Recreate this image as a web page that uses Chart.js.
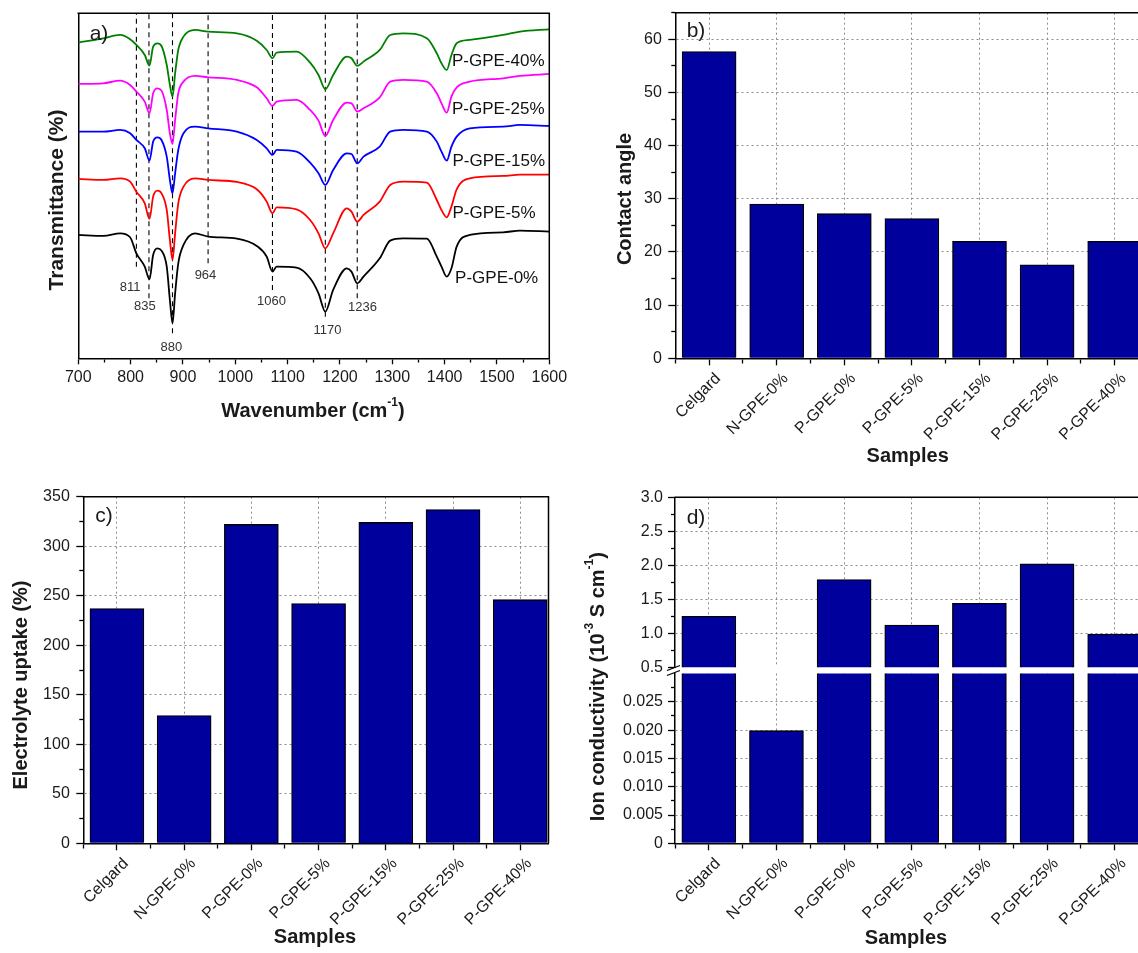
<!DOCTYPE html>
<html><head><meta charset="utf-8">
<script src="https://cdn.jsdelivr.net/npm/chart.js@4.4.1/dist/chart.umd.min.js"></script>
<style>
html,body{margin:0;padding:0;background:#fff;overflow:hidden;width:1138px;height:953px;}
canvas{position:absolute;}
</style></head><body>
<canvas id="ca" width="575" height="430" style="left:0;top:0"></canvas>
<canvas id="cb" width="585" height="476" style="left:570px;top:0"></canvas>
<canvas id="cc" width="570" height="473" style="left:0;top:480px"></canvas>
<canvas id="cdu" width="585" height="200" style="left:570px;top:480px"></canvas>
<canvas id="cdl" width="585" height="473" style="left:570px;top:480px"></canvas>
<script>
// ---------------- DATA ----------------
// Panel a: FTIR spectra (wavenumber in cm-1, transmittance in arbitrary offset units)
const wavenumbers = [700, 748, 780, 799, 811, 827, 836, 843, 851, 859, 869, 875, 880, 885, 891, 901, 923, 948, 1003, 1041, 1060, 1071, 1079, 1117, 1143, 1159, 1172, 1187, 1213, 1222, 1233, 1245, 1276, 1296, 1321, 1366, 1385, 1394, 1404, 1413, 1423, 1448, 1512, 1544, 1600];
const transP0 = [37.0, 36.7, 37.5, 36.3, 31.5, 27.5, 23.7, 31.0, 33.0, 32.3, 27.5, 17.5, 10.5, 19.5, 28.5, 34.0, 37.5, 36.5, 35.9, 33.7, 30.5, 26.0, 27.5, 27.2, 24.0, 19.5, 14.0, 20.5, 27.0, 26.0, 22.5, 24.5, 30.0, 35.3, 36.0, 35.9, 30.5, 27.5, 24.5, 27.0, 33.5, 37.0, 37.8, 38.3, 38.0];
const transP5 = [53.8, 53.5, 54.0, 53.0, 50.0, 46.5, 41.8, 48.5, 50.3, 49.5, 44.5, 35.5, 29.5, 37.5, 46.5, 51.5, 54.0, 53.5, 52.9, 50.7, 47.0, 43.5, 45.3, 44.7, 41.5, 37.5, 33.0, 37.5, 45.0, 44.0, 41.0, 43.0, 47.0, 52.0, 53.0, 52.7, 47.5, 44.5, 42.3, 45.5, 50.7, 54.0, 54.7, 55.1, 55.1];
const transP15 = [68.0, 68.0, 68.5, 67.5, 65.5, 63.0, 59.3, 65.0, 66.3, 65.5, 60.5, 53.5, 49.5, 55.5, 62.5, 67.5, 69.5, 69.0, 68.0, 65.5, 63.0, 61.0, 62.5, 62.0, 58.7, 55.5, 52.0, 56.5, 61.5, 61.3, 58.5, 60.5, 63.5, 68.0, 68.5, 68.0, 65.0, 62.0, 59.3, 63.5, 66.5, 69.0, 69.5, 70.0, 69.7];
const transP25 = [82.3, 82.5, 83.3, 82.0, 80.0, 77.0, 73.5, 79.5, 81.0, 80.3, 74.5, 67.5, 64.3, 71.5, 79.5, 83.0, 84.7, 84.3, 83.5, 81.3, 78.0, 75.7, 77.0, 77.5, 74.5, 71.3, 66.7, 71.5, 76.7, 76.5, 74.0, 75.0, 78.3, 83.0, 83.5, 83.0, 79.5, 76.5, 73.7, 78.5, 81.3, 83.0, 84.0, 84.7, 85.3];
const transP40 = [94.7, 96.0, 97.0, 95.7, 94.0, 91.0, 87.8, 93.5, 94.5, 93.7, 88.0, 82.0, 78.5, 85.5, 92.5, 96.5, 98.5, 98.0, 97.5, 95.3, 92.5, 90.0, 91.7, 92.0, 88.7, 85.0, 80.7, 85.0, 90.5, 90.0, 87.7, 89.0, 92.5, 97.0, 97.5, 96.0, 91.5, 88.5, 86.5, 91.0, 94.5, 95.5, 97.0, 98.0, 98.7];
const seriesNames = ['P-GPE-0%', 'P-GPE-5%', 'P-GPE-15%', 'P-GPE-25%', 'P-GPE-40%'];
const peakLineWn = [811, 835, 880, 948, 1071, 1172, 1233];
const peakLineLow = [27.5, 18, 7.5, 28.5, 20.5, 12.5, 18];
const peakLabels = ['811', '835', '880', '964', '1060', '1170', '1236'];
const wnTicks = [700, 750, 800, 850, 900, 950, 1000, 1050, 1100, 1150, 1200, 1250, 1300, 1350, 1400, 1450, 1500, 1550, 1600];

// Panels b, c, d: bar data
const samples = ['Celgard', 'N-GPE-0%', 'P-GPE-0%', 'P-GPE-5%', 'P-GPE-15%', 'P-GPE-25%', 'P-GPE-40%'];
const contactAngle = [57.7, 29.0, 27.2, 26.3, 22.0, 17.6, 22.0];
const electrolyteUptake = [237, 129, 322, 242, 324, 337, 246];
const ionConductivity = [1.25, 0.0199, 1.79, 1.12, 1.44, 2.02, 0.99];
const sampleTicks = [0.5, 1, 1.5, 2, 2.5, 3, 3.5, 4, 4.5, 5, 5.5, 6, 6.5, 7, 7.5];
const angleTicks = [0, 5, 10, 15, 20, 25, 30, 35, 40, 45, 50, 55, 60, 65];
const uptakeTicks = [0, 25, 50, 75, 100, 125, 150, 175, 200, 225, 250, 275, 300, 325, 350];
const condUpperTicks = [0.5, 0.75, 1.0, 1.25, 1.5, 1.75, 2.0, 2.25, 2.5, 2.75, 3.0];
const condLowerTicks = [0, 0.0025, 0.005, 0.0075, 0.01, 0.0125, 0.015, 0.0175, 0.02, 0.0225, 0.025, 0.0275];

// ---------------- STYLE / HELPERS ----------------
const FONT = "'Liberation Sans', Arial, Helvetica, sans-serif";
Chart.defaults.font.family = FONT;
Chart.defaults.color = '#1a1a1a';
Chart.defaults.animation = false;
const GRID = '#8c8c8c';
const BAR = '#00009c';
const TXT = '#1a1a1a';
const NONE = 'rgba(0,0,0,0)';
const isMult = (v, step) => Math.abs(v / step - Math.round(v / step)) < 1e-6;

function drawRich(ctx, parts, x, y, it) {
  const size = it.size || 16;
  const weight = it.bold ? 'bold ' : '';
  const supSize = Math.round(size * 0.6);
  ctx.save();
  ctx.translate(x, y);
  if (it.rotate) ctx.rotate(it.rotate);
  ctx.fillStyle = it.color || TXT;
  ctx.textBaseline = 'middle';
  ctx.textAlign = 'left';
  let total = 0;
  const widths = parts.map(p => {
    ctx.font = weight + (p.sup ? supSize : size) + 'px ' + FONT;
    const w = ctx.measureText(p.t).width;
    total += w;
    return w;
  });
  let cx = it.align === 'left' ? 0 : (it.align === 'right' ? -total : -total / 2);
  parts.forEach((p, i) => {
    ctx.font = weight + (p.sup ? supSize : size) + 'px ' + FONT;
    ctx.fillText(p.t, cx, p.sup ? -size * 0.4 : 0);
    cx += widths[i];
  });
  ctx.restore();
}

const textPlugin = {
  id: 'texts',
  afterDraw(chart, args, opts) {
    const ctx = chart.ctx;
    (opts.items || []).forEach(it => {
      let x = it.x, y = it.y;
      if (it.dataX !== undefined) {
        x = chart.scales.x.getPixelForValue(it.dataX) + (it.dx || 0);
        y = chart.scales.y.getPixelForValue(it.dataY);
      }
      drawRich(ctx, it.parts || [{ t: it.text }], x, y, it);
    });
  }
};

const framePlugin = {
  id: 'frame',
  afterDatasetsDraw(chart, args, opts) {
    const { left, right, top, bottom } = chart.chartArea;
    const ctx = chart.ctx;
    ctx.save();
    ctx.strokeStyle = '#000';
    ctx.lineWidth = 1.5;
    ctx.beginPath();
    if (opts.top) { ctx.moveTo(left - 0.75, top); ctx.lineTo(right + 0.75, top); }
    if (opts.right) { ctx.moveTo(right, top); ctx.lineTo(right, bottom); }
    ctx.stroke();
    if (opts.breakMarks) {
      ctx.lineWidth = 1.3;
      ctx.beginPath();
      ctx.moveTo(left - 8, top - 3); ctx.lineTo(left + 5, top - 8);
      ctx.moveTo(left - 8, top + 2); ctx.lineTo(left + 5, top - 3);
      ctx.stroke();
    }
    ctx.restore();
  }
};

function yScale(o) {
  return {
    type: 'linear', min: o.min, max: o.max,
    afterBuildTicks: s => { s.ticks = o.ticks.map(v => ({ value: v })); },
    afterFit: s => { s.width = o.width; s.paddingTop = 0; s.paddingBottom = 0; },
    ticks: {
      display: o.labels !== false, autoSkip: false, padding: o.pad, font: { size: 16 }, color: TXT,
      callback: v => isMult(v, o.step) ? o.fmt(v) : ''
    },
    grid: {
      display: o.grid !== false,
      drawOnChartArea: o.grid !== false,
      drawTicks: o.labels !== false,
      color: c => (c.tick && isMult(c.tick.value, o.step) && Math.abs(c.tick.value - o.min) > 1e-9) ? GRID : NONE,
      lineWidth: 1, tickLength: 7, tickColor: '#000', tickWidth: 1.3,
      tickBorderDash: c => (c.tick && !isMult(c.tick.value, o.step)) ? [4, 100] : [],
      tickBorderDashOffset: c => (c.tick && !isMult(c.tick.value, o.step)) ? -3 : 0
    },
    border: { display: true, color: '#000', width: 1.5, dash: [2, 3] }
  };
}

function sampleScale(o) {
  const tk = sampleTicks.filter(v => v <= o.max + 1e-9);
  return {
    type: 'linear', min: 0.5, max: o.max, offset: false,
    afterBuildTicks: s => { s.ticks = tk.map(v => ({ value: v })); },
    afterFit: s => { s.height = o.height; s.paddingLeft = 0; s.paddingRight = 0; },
    ticks: {
      display: o.axis !== false, autoSkip: false, minRotation: 45, maxRotation: 45,
      padding: 4, labelOffset: 9, font: { size: 16 }, color: TXT,
      callback: v => Number.isInteger(v) ? samples[v - 1] : ''
    },
    grid: {
      offset: false, drawTicks: o.axis !== false,
      color: c => (c.tick && Number.isInteger(c.tick.value)) ? GRID : NONE,
      lineWidth: 1, tickLength: 7, tickColor: '#000', tickWidth: 1.3,
      tickBorderDash: c => (c.tick && !Number.isInteger(c.tick.value)) ? [4, 100] : []
    },
    border: { display: o.axis !== false, color: '#000', width: 1.5, dash: [2, 3] }
  };
}

function barDataset(values) {
  return {
    data: values.map((v, i) => ({ x: i + 1, y: v })),
    backgroundColor: BAR, borderColor: '#000', borderWidth: 1.3,
    barThickness: 54, borderSkipped: 'start', clip: 0
  };
}

const basePlugins = { legend: { display: false }, tooltip: { enabled: false } };
const titleFont = 20;

// ---------------- PANEL a ----------------
const lineColors = ['#000000', '#ff0000', '#0000ff', '#ff00ff', '#008000'];
const lineSeries = [transP0, transP5, transP15, transP25, transP40];
const aDatasets = lineSeries.map((s, k) => ({
  label: seriesNames[k],
  data: wavenumbers.map((w, i) => ({ x: w, y: s[i] })),
  borderColor: lineColors[k], borderWidth: 1.8, pointRadius: 0,
  cubicInterpolationMode: 'monotone', fill: false
}));
peakLineWn.forEach((w, i) => aDatasets.push({
  label: 'peak ' + peakLabels[i],
  data: [{ x: w, y: peakLineLow[i] }, { x: w, y: 103.5 }],
  borderColor: '#000', borderWidth: 1.1, borderDash: [5, 4], pointRadius: 0, fill: false
}));
const seriesLabelY = [24, 43.5, 59, 74.7, 89];
const seriesLabelX = [1420, 1415, 1415, 1414, 1414];
const peakLabelPos = [[799, 21.3], [827, 15.5], [878, 3.2], [943, 25.0], [1069, 17.0], [1176, 8.5], [1243, 15.3]];
const aTexts = [
  { text: 'a)', x: 99, y: 34, size: 21 },
  { text: 'Transmittance (%)', x: 57, y: 200, size: 21, bold: true, rotate: -Math.PI / 2 },
  { parts: [{ t: 'Wavenumber (cm' }, { t: '-1', sup: true }, { t: ')' }], x: 313, y: 411, size: titleFont, bold: true }
];
seriesNames.forEach((n, k) => aTexts.push({ text: n, dataX: seriesLabelX[k], dataY: seriesLabelY[k], size: 17, align: 'left', color: '#111' }));
peakLabels.forEach((p, i) => aTexts.push({ text: p, dataX: peakLabelPos[i][0], dataY: peakLabelPos[i][1], size: 13, color: '#333' }));

new Chart(document.getElementById('ca'), {
  type: 'line',
  data: { datasets: aDatasets },
  options: {
    responsive: false, animation: false,
    layout: { padding: { top: 13.3, right: 25.7, left: 0, bottom: 0 }, autoPadding: false },
    plugins: Object.assign({}, basePlugins, { frame: { top: true, right: true }, texts: { items: aTexts } }),
    scales: {
      x: {
        type: 'linear', min: 700, max: 1600,
        afterBuildTicks: s => { s.ticks = wnTicks.map(v => ({ value: v })); },
        afterFit: s => { s.height = 71.7; s.paddingLeft = 0; s.paddingRight = 0; },
        ticks: { autoSkip: false, maxRotation: 0, minRotation: 0, padding: 4, font: { size: 16 }, color: TXT,
          callback: v => isMult(v, 100) ? String(v) : '' },
        grid: { drawOnChartArea: false, tickLength: 6, tickColor: '#000', tickWidth: 1.3,
          tickBorderDash: c => (c.tick && !isMult(c.tick.value, 100)) ? [3, 100] : [] },
        border: { color: '#000', width: 1.5 }
      },
      y: {
        type: 'linear', min: 0, max: 103.5,
        afterFit: s => { s.width = 78.3; s.paddingTop = 0; s.paddingBottom = 0; },
        ticks: { display: false },
        grid: { display: false, drawTicks: false },
        border: { display: true, color: '#000', width: 1.5 }
      }
    }
  },
  plugins: [framePlugin, textPlugin]
});

// ---------------- PANEL b ----------------
new Chart(document.getElementById('cb'), {
  type: 'bar',
  data: { datasets: [barDataset(contactAngle)] },
  options: {
    responsive: false, animation: false,
    layout: { padding: { top: 12.7, right: 6.5, left: 0, bottom: 0 }, autoPadding: false },
    plugins: Object.assign({}, basePlugins, { frame: { top: true, right: true }, texts: { items: [
      { text: 'b)', x: 126, y: 31, size: 21 },
      { text: 'Contact angle', x: 55, y: 199, size: titleFont, bold: true, rotate: -Math.PI / 2 },
      { text: 'Samples', x: 337.7, y: 456, size: titleFont, bold: true }
    ] } }),
    scales: {
      x: sampleScale({ max: 7.5, height: 117.7 }),
      y: yScale({ min: 0, max: 65, ticks: angleTicks, step: 10, width: 105.3, pad: 6.5, fmt: v => String(Math.round(v)) })
    }
  },
  plugins: [framePlugin, textPlugin]
});

// ---------------- PANEL c ----------------
new Chart(document.getElementById('cc'), {
  type: 'bar',
  data: { datasets: [barDataset(electrolyteUptake)] },
  options: {
    responsive: false, animation: false,
    layout: { padding: { top: 16.7, right: 21.5, left: 0, bottom: 0 }, autoPadding: false },
    plugins: Object.assign({}, basePlugins, { frame: { top: true, right: true }, texts: { items: [
      { text: 'c)', x: 104, y: 36, size: 21 },
      { text: 'Electrolyte uptake (%)', x: 21.7, y: 205, size: titleFont, bold: true, rotate: -Math.PI / 2 },
      { text: 'Samples', x: 315, y: 457, size: titleFont, bold: true }
    ] } }),
    scales: {
      x: sampleScale({ max: 7.42, height: 109.7 }),
      y: yScale({ min: 0, max: 350, ticks: uptakeTicks, step: 50, width: 83.3, pad: 6.5, fmt: v => String(Math.round(v)) })
    }
  },
  plugins: [framePlugin, textPlugin]
});

// ---------------- PANEL d (broken axis: upper and lower segments) ----------------
new Chart(document.getElementById('cdu'), {
  type: 'bar',
  data: { datasets: [barDataset(ionConductivity)] },
  options: {
    responsive: false, animation: false,
    layout: { padding: { top: 17.3, right: 6.5, left: 0, bottom: 12.7 }, autoPadding: false },
    plugins: Object.assign({}, basePlugins, { frame: { top: true, right: true }, texts: { items: [
      { text: 'd)', x: 126, y: 38, size: 21 }
    ] } }),
    scales: {
      x: sampleScale({ max: 7.5, height: 0, axis: false }),
      y: yScale({ min: 0.5, max: 3.0, ticks: condUpperTicks, step: 0.5, width: 105, pad: 5, fmt: v => v.toFixed(1) })
    }
  },
  plugins: [framePlugin, textPlugin]
});

new Chart(document.getElementById('cdl'), {
  type: 'bar',
  data: { datasets: [barDataset(ionConductivity)] },
  options: {
    responsive: false, animation: false,
    layout: { padding: { top: 193.5, right: 6.5, left: 0, bottom: 0 }, autoPadding: false },
    plugins: Object.assign({}, basePlugins, { frame: { right: true, breakMarks: true }, texts: { items: [
      { parts: [{ t: 'Ion conductivity (10' }, { t: '-3', sup: true }, { t: ' S cm' }, { t: '-1', sup: true }, { t: ')' }],
        x: 28, y: 206.7, size: titleFont, bold: true, rotate: -Math.PI / 2 },
      { text: 'Samples', x: 336, y: 458, size: titleFont, bold: true }
    ] } }),
    scales: {
      x: sampleScale({ max: 7.5, height: 109.7 }),
      y: yScale({ min: 0, max: 0.03, ticks: condLowerTicks, step: 0.005, width: 105, pad: 5,
        fmt: v => Math.abs(v) < 1e-12 ? '0' : v.toFixed(3) })
    }
  },
  plugins: [framePlugin, textPlugin]
});
</script>
</body></html>
